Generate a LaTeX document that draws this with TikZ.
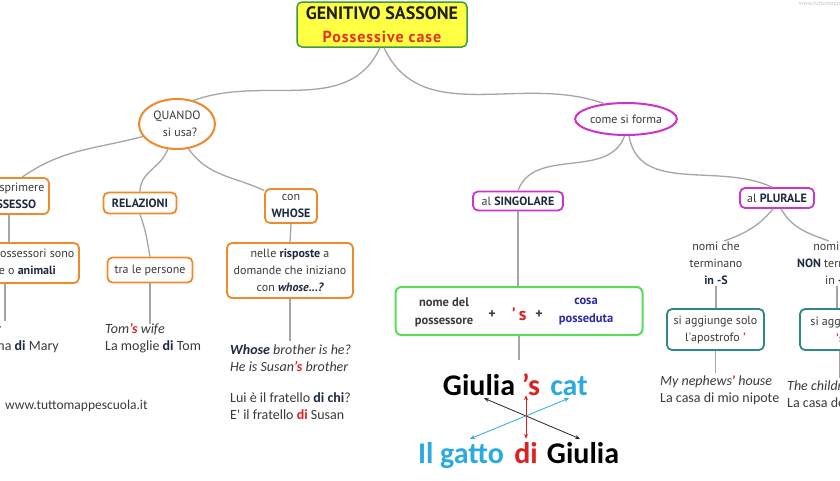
\documentclass[tikz,border=0pt]{standalone}
\usepackage{fontspec}
\setmainfont{PT Sans}
\newfontfamily\carl{Carlito}
\usetikzlibrary{shapes.geometric,arrows.meta,calc}
\definecolor{orng}{HTML}{EE8A2A}
\definecolor{mag}{HTML}{CC33CC}
\definecolor{teal2}{HTML}{2E8888}
\definecolor{grn}{HTML}{55DD55}
\definecolor{ttl}{HTML}{FFFF44}
\definecolor{ttlb}{HTML}{3E9A3E}
\definecolor{connc}{HTML}{A5A5A5}
\definecolor{txt}{HTML}{3A3A3A}
\definecolor{nav}{HTML}{1E2A40}
\definecolor{redc}{HTML}{E02020}
\definecolor{blu}{HTML}{2A2AA8}
\definecolor{cyan2}{HTML}{2AAAE0}
\definecolor{ptitle}{HTML}{E8301C}
\newcommand{\nb}[1]{\textbf{\color{nav}#1}}
\newcommand{\rs}[1]{{\color{redc}\bfseries #1}}
\begin{document}
\begin{tikzpicture}[x=1pt,y=1pt,
 every node/.style={text=txt},
 base/.style={rounded corners=5pt, line width=1.8pt, fill=white, align=center, font=\fontsize{12}{17}\selectfont, inner sep=3pt},
 obox/.style={base, draw=orng},
 mbox/.style={base, draw=mag},
 tbox/.style={base, draw=teal2},
 conn/.style={draw=connc, line width=1.3pt},
 ex/.style={font=\carl\fontsize{14}{17}\selectfont, align=left, inner sep=0pt},
 big/.style={font=\carl\bfseries\fontsize{30}{30}\selectfont, inner sep=0pt, text height=22pt, text depth=0pt, anchor=base},
 dbl/.style={{Stealth[length=5pt,width=4pt]}-{Stealth[length=5pt,width=4pt]}, line width=0.8pt},
]
\useasboundingbox (0,0) rectangle (840,-480);
\clip (0,0) rectangle (840,-480);
\fill[white] (0,0) rectangle (840,-480);

% title
\node[draw=ttlb, fill=ttl, line width=1.5pt, rounded corners=5pt, minimum width=170pt, minimum height=45pt, align=center, inner sep=2pt, font=\bfseries\fontsize{18}{23}\selectfont] (title) at (382,-24.5) {{\color{black!88}GENITIVO SASSONE}\\{\color{ptitle}\fontsize{16}{23}\selectfont\addfontfeature{LetterSpace=6}Possessive case}};
\node[anchor=west, text=gray!45, font=\fontsize{6}{7}\selectfont, inner sep=0pt] (wm) at (799,-4) {www.tuttomappescuola.it};

% ellipses
\node[ellipse, draw=orng, line width=2pt, minimum width=76pt, minimum height=50pt, align=center, font=\fontsize{12}{17}\selectfont, inner sep=0pt] (quando) at (177,-124) {QUANDO\\\hspace*{6pt}si usa?};
\node[ellipse, draw=mag, line width=2pt, minimum width=86pt, minimum height=32pt, inner sep=0pt, font=\fontsize{12}{15}\selectfont] (come) at (626,-119) {come si forma};

% left branch
\node[obox, minimum width=80pt, minimum height=36pt] (posb) at (9,-196) {per esprimere\\\nb{POSSESSO}};
\node[obox, minimum width=73pt, minimum height=21pt] (rel) at (140,-203) {\nb{RELAZIONI}};
\node[obox, minimum width=85pt, minimum height=25pt] (tra) at (150,-270) {tra le persone};
\node[obox, minimum width=138pt, minimum height=40pt] (poss) at (10,-263) {quando i possessori sono\\persone o \nb{animali}};
\node[obox, minimum width=52pt, minimum height=34pt] (con) at (291,-206) {con\\\nb{WHOSE}};
\node[obox, minimum width=126pt, minimum height=55pt] (risp) at (290,-270.5) {nelle \nb{risposte} a\\domande che iniziano\\con \nb{\itshape whose...?}};

\node[ex, anchor=east] (mary) at (59,-338.5) {{\itshape Mary\rs{’s} car}\\La macchina \nb{di} Mary};
\node[ex, anchor=west] (tom) at (105,-338.5) {{\itshape Tom\rs{’s} wife}\\La moglie \nb{di} Tom};
\node[ex, anchor=west] (whose1) at (230,-358) {{\itshape\nb{Whose} brother is he?}\\{\itshape He is Susan\rs{’s} brother}};
\node[ex, anchor=west] (whose2) at (230,-406.5) {Lui è il fratello \nb{di chi}?\\E\textquotesingle{} il fratello \rs{di} Susan};
\node[ex, anchor=west, font=\carl\fontsize{13.5}{17}\selectfont] (web) at (5,-406) {www.tuttomappescuola.it};

% middle
\node[mbox, minimum width=90pt, minimum height=19pt] (sing) at (518,-201) {al \nb{SINGOLARE}};
\node[draw=grn, line width=2pt, rounded corners=6pt, minimum width=247pt, minimum height=48pt] (formula) at (519,-311) {};
\node[font=\bfseries\fontsize{12.5}{18}\selectfont, align=center] (nome) at (444,-312) {nome del\\possessore};
\node[font=\bfseries\fontsize{14}{14}\selectfont] (p1) at (492,-315) {+};
\node[font=\bfseries\fontsize{18}{18}\selectfont, text=redc] (aps) at (519,-314) {\textquotesingle\,s};
\node[font=\bfseries\fontsize{14}{14}\selectfont] (p2) at (539,-315) {+};
\node[font=\bfseries\fontsize{12.5}{18}\selectfont, align=center, text=blu] (cosa) at (586,-312) {cosa\\posseduta};
\coordinate (gtop) at (519,-360);

\node[big, text=black] (g1) at (479,-395) {Giulia};
\node[big, text=redc] (s1) at (531,-395) {’s};
\node[big, text=cyan2] (c1) at (569,-395) {cat};
\node[big, text=cyan2] (g2) at (461,-463) {Il gatto};
\node[big, text=redc] (d2) at (526,-463) {di};
\node[big, text=black] (gi2) at (583,-463) {Giulia};

\draw[dbl, black!85] ($(g1.south)+(5,-3)$) -- ($(gi2.north)+(-3,2)$);
\draw[dbl, cyan2] ($(c1.south)+(0,-3)$) -- ($(g2.north)+(9,2)$);
\draw[dbl, redc] ($(s1.south)+(-5,0)$) -- ($(d2.north)+(0,2)$);

% right
\node[mbox, minimum width=74pt, minimum height=20pt] (plur) at (777,-198) {al \nb{PLURALE}};
\node[align=center, font=\fontsize{12}{17}\selectfont, inner sep=1pt] (nomiS) at (716,-263.5) {nomi che\\terminano\\\nb{in -S}};
\node[align=center, font=\fontsize{12}{17}\selectfont, inner sep=1pt] (nomiN) at (837,-263.5) {nomi che\\\nb{NON} terminano\\in \nb{-S}};
\node[tbox, minimum width=97pt, minimum height=41pt] (tS) at (715.5,-329.5) {si aggiunge solo\\l\textquotesingle apostrofo \rs{\textquotesingle}};
\node[tbox, minimum width=80pt, minimum height=41pt] (tN) at (840,-329.5) {si aggiunge\\\rs{\textquotesingle s}};
\node[ex, anchor=west] (neph) at (660,-390.5) {{\itshape My nephews\rs{\textquotesingle} house}\\La casa di mio nipote};
\node[ex, anchor=west] (child) at (787,-394.5) {{\itshape The children\rs{\textquotesingle s} house}\\La casa dei bambini};

% connectors
\draw[conn] (title.-95) to[out=-115, in=20] (quando.55);
\draw[conn] (title.-85) to[out=-65, in=160] (come.145);
\draw[conn] (quando.200) to[out=195, in=35] (posb.55);
\draw[conn] (quando.250) to[out=-110, in=90] (rel.north);
\draw[conn] (quando.295) to[out=-55, in=155] (con.150);
\draw[conn] (posb.south) -- (posb.south |- poss.north);
\draw[conn] (rel.south) to[out=-70, in=100] (tra.north);
\draw[conn] (tra.south) -- (tra.south |- tom.north);
\draw[conn] ($(poss.south)+(-5,0)$) -- ($(poss.south |- mary.north)+(-5,3)$);
\draw[conn] (con.south) -- (risp.north);
\draw[conn] (risp.south) -- ($(risp.south |- whose1.north)+(0,3)$);
\draw[conn] (come.265) to[out=-110, in=70] (sing.north);
\draw[conn] (come.280) to[out=-80, in=155] (plur.115);
\draw[conn] (sing.south) -- (sing.south |- formula.north);
\draw[conn] (formula.south) -- (gtop);
\draw[conn] (plur.250) to[out=-130, in=20] (nomiS.70);
\draw[conn] (plur.290) to[out=-60, in=160] (nomiN.110);
\draw[conn] (nomiS.south) -- (nomiS.south |- tS.north);
\draw[conn] (nomiN.south) -- (nomiN.south |- tN.north);
\draw[conn] (tS.south) -- ($(tS.south |- neph.north)+(0,3)$);
\draw[conn] (tN.south) -- ($(tN.south |- child.north)+(0,3)$);
\end{tikzpicture}
\end{document}
